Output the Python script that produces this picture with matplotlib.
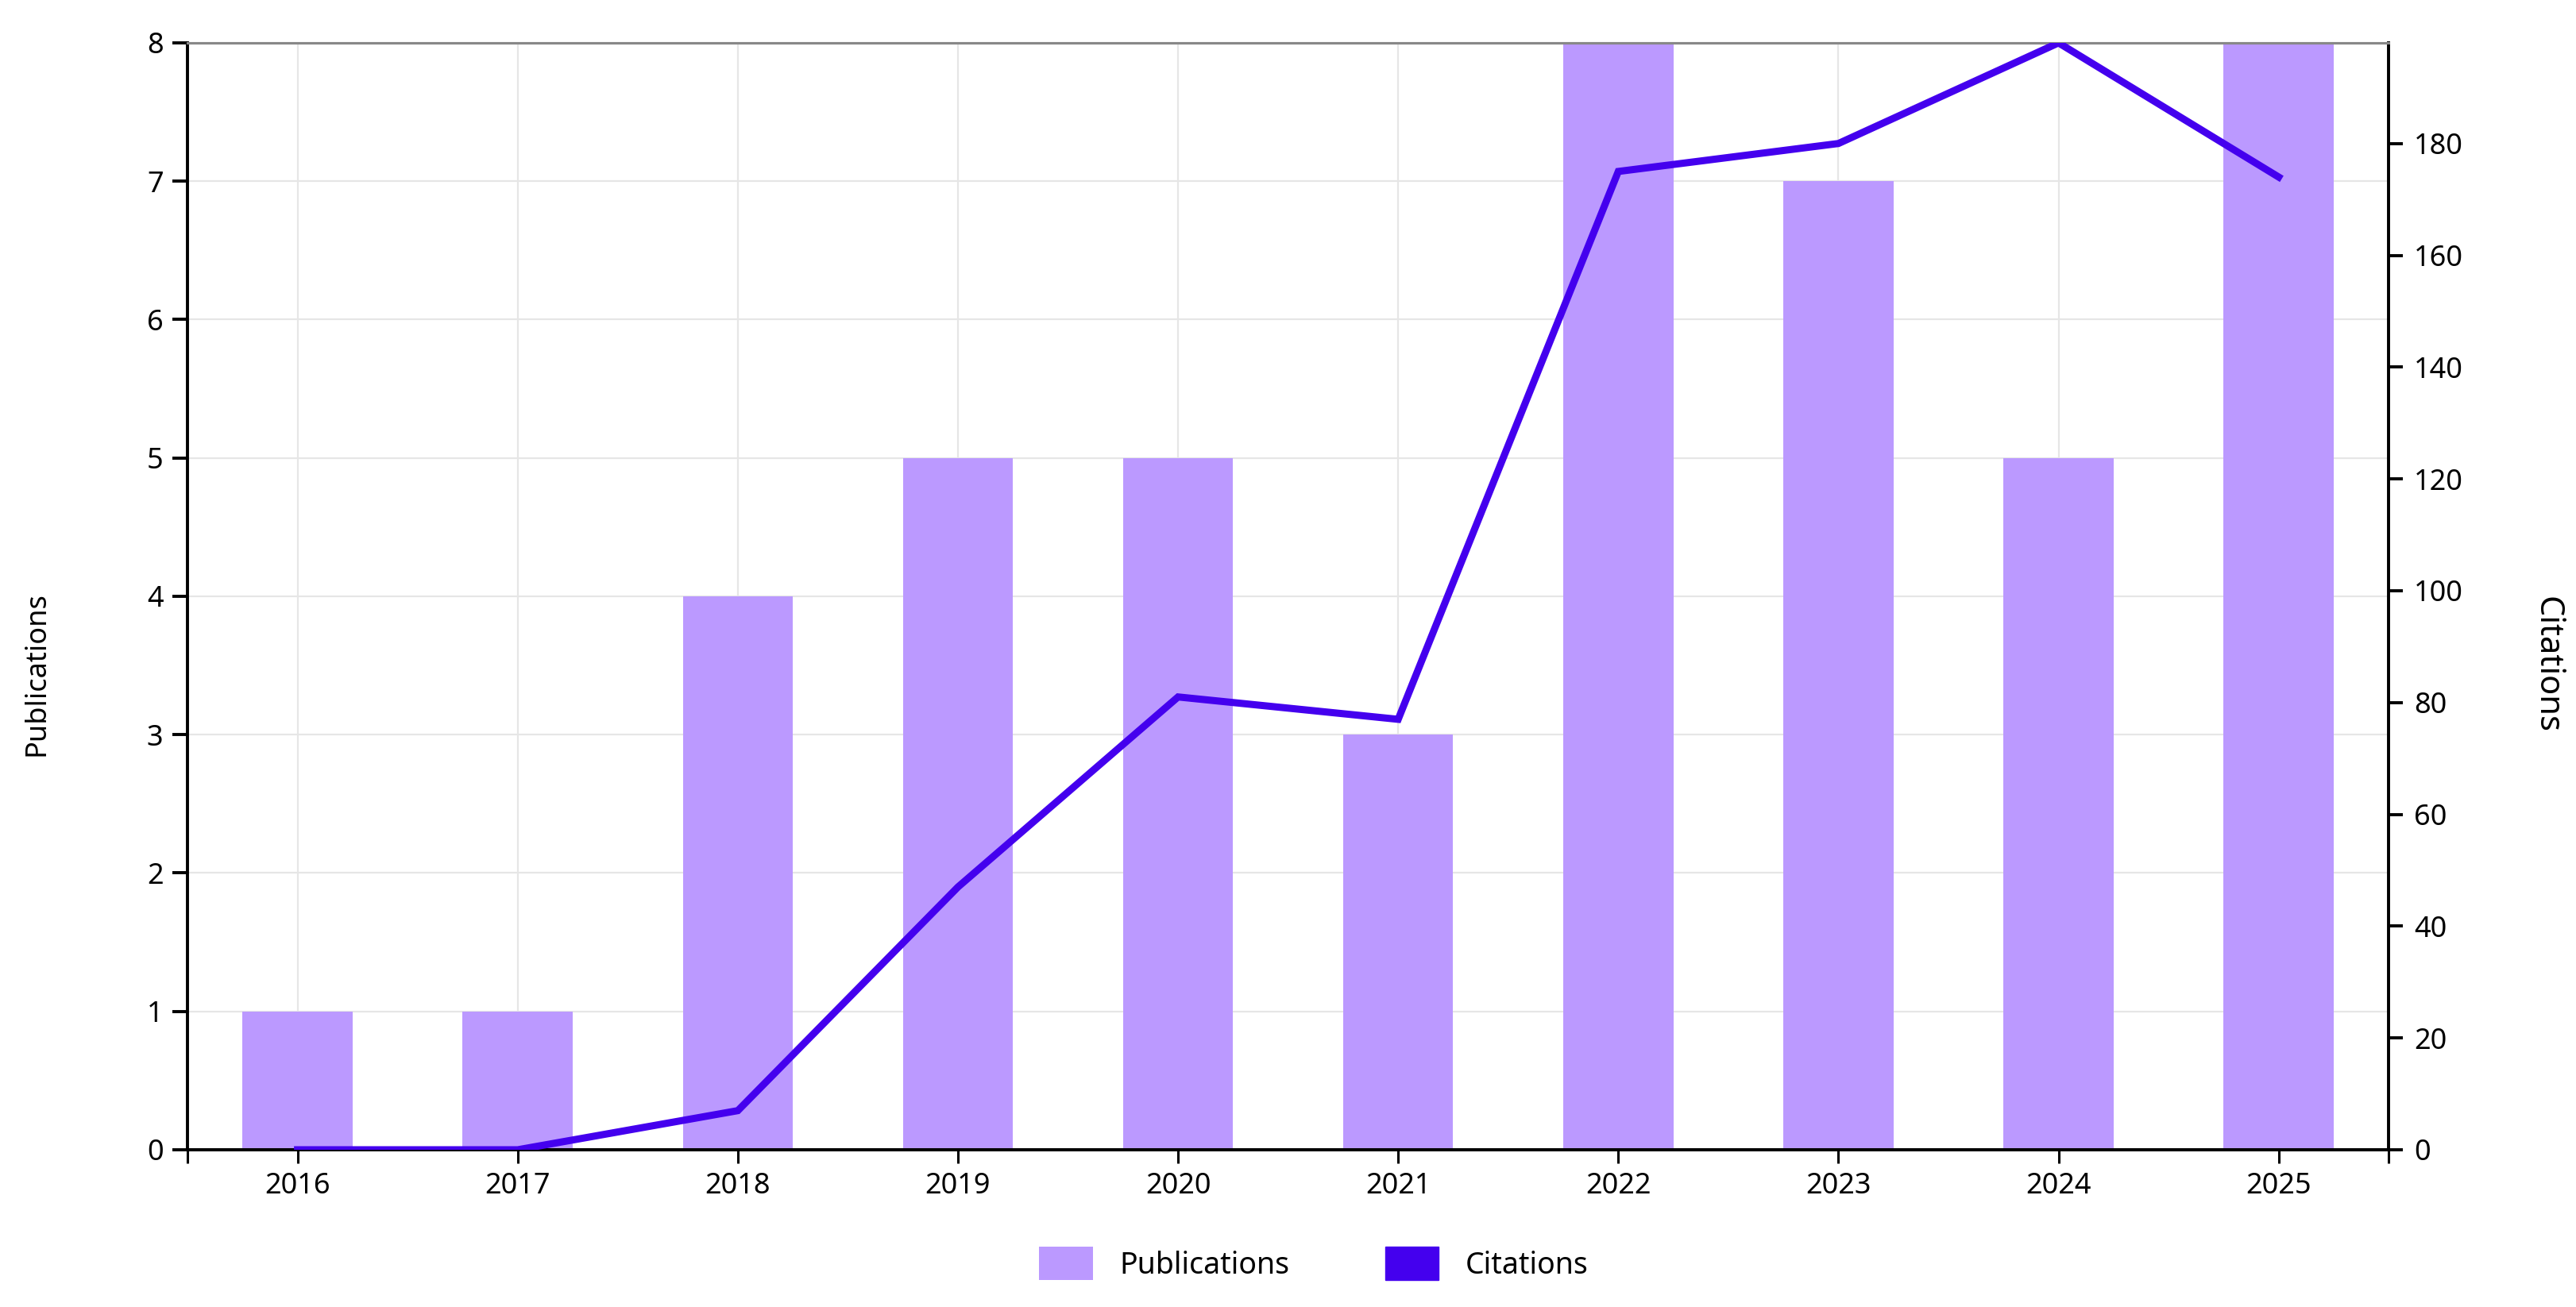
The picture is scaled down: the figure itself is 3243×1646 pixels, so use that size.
import numpy as np
import matplotlib
matplotlib.use("Agg")
import matplotlib.pyplot as plt
import matplotlib.patches as mpatches
from matplotlib.ticker import FixedLocator

plt.rcParams['font.family'] = ['Noto Sans', 'DejaVu Sans']

years = ['2016', '2017', '2018', '2019', '2020', '2021', '2022', '2023', '2024', '2025']
publications = [1, 1, 4, 5, 5, 3, 8, 7, 5, 8]
citations = [0, 0, 7, 47, 81, 77, 175, 180, 198, 174]

bar_color = '#bb99ff'
line_color = '#4400ee'
grid_color = '#e6e6e6'

fig = plt.figure(figsize=(32.43, 16.46), dpi=100)
ax = fig.add_axes([0.0728, 0.1203, 0.8545, 0.8469])
x = np.arange(len(years))

ax.bar(x, publications, width=0.5, color=bar_color, zorder=2, label='Publications')
ax.set_xlim(-0.5, len(years) - 0.5)
ax.set_ylim(0, 8)
ax.set_yticks(range(0, 9))
ax.set_xticks(x)
ax.set_xticklabels(years)
ax.xaxis.set_minor_locator(FixedLocator([-0.5, len(years) - 0.5]))
ax.grid(True, color=grid_color, lw=1.6, zorder=0)
ax.set_axisbelow(True)

# citations on the second axis
ax2 = ax.twinx()
ax2.plot(x, citations, color=line_color, lw=6.5, zorder=3, label='Citations',
         solid_joinstyle='miter')
ax2.set_ylim(0, max(citations))
ax2.set_yticks(range(0, 181, 20))
ax2.set_xlim(-0.5, len(years) - 0.5)

for a in (ax, ax2):
    for s in ('left', 'right', 'bottom'):
        a.spines[s].set_linewidth(2.8)
        a.spines[s].set_color('black')
    a.spines['top'].set_color('#888888')
    a.spines['top'].set_linewidth(2.2)
ax.spines['right'].set_visible(False)
ax2.spines['left'].set_visible(False)

ax.tick_params(axis='y', length=14, width=2.8, labelsize=26, pad=8)
ax.tick_params(axis='x', which='both', length=12, width=2.2, labelsize=26, pad=8)
ax2.tick_params(axis='y', length=13, width=2.8, labelsize=26, pad=10)

ax.set_ylabel('Publications', fontsize=26)
ax.yaxis.set_label_coords(-0.062, 0.43)
ax2.set_ylabel('Citations', fontsize=30, rotation=270, va='center')
ax2.yaxis.set_label_coords(1.072, 0.438)

h1, l1 = ax.get_legend_handles_labels()
h2 = [mpatches.Patch(color=line_color)]
fig.legend(h1 + h2, l1 + ['Citations'], loc='center', bbox_to_anchor=(0.51, 0.033),
           ncol=2, frameon=False, fontsize=27, handlelength=1.8, handleheight=1.35,
           columnspacing=3.2, handletextpad=0.9)

fig.savefig('out.png', dpi=100)
